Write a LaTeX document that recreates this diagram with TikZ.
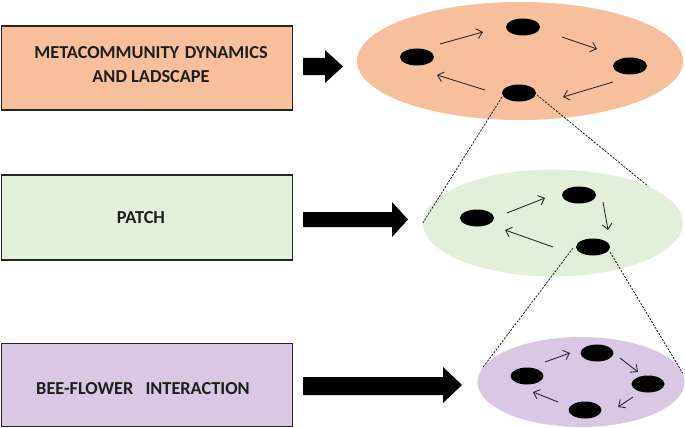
\documentclass[tikz,border=0pt]{standalone}
\usepackage{fontspec}
\setmainfont{Carlito}
\usetikzlibrary{shapes.geometric,calc,arrows.meta}
\definecolor{salmon}{HTML}{F7BF9C}
\definecolor{mint}{HTML}{E2EFDA}
\definecolor{lilac}{HTML}{D9C7E3}
\definecolor{txt}{HTML}{1E1E1E}
\tikzset{
  levelbox/.style={draw=black!85, line width=1.1pt, minimum width=291pt, inner sep=0pt},
  boxtext/.style={inner sep=0pt, font=\fontsize{18.3}{24}\selectfont\bfseries, text=txt, align=center},
  patch/.style={ellipse, inner sep=0pt, draw=none},
  dot/.style={ellipse, fill=black, inner sep=0pt, minimum width=34pt, minimum height=17pt},
  flow/.style={-{Straight Barb[length=5.5pt,width=10pt]}, line width=0.85pt, black!85},
  zoomline/.style={black!85, line width=0.8pt, dash pattern=on 2.2pt off 1.3pt},
  blockarrow/.style={fill=black}
}
\begin{document}
\begin{tikzpicture}[x=1pt,y=-1pt]
\useasboundingbox (0,0) rectangle (685,428);

% level boxes
\node[levelbox, fill=salmon, minimum height=84pt] (box1) at (147,68) {};
\node[levelbox, fill=mint, minimum height=85pt] (box2) at (147,217.5) {};
\node[levelbox, fill=lilac, minimum height=83pt] (box3) at (147,385) {};
\node[boxtext] (lab1) at ($(box1)+(4,-3)$) {METACOMMUNITY\hspace{1.5pt} DYNAMICS\\AND LADSCAPE};
\node[boxtext] (lab2) at ($(box2)+(-6,0)$) {PATCH};
\node[boxtext] (lab3) at ($(box3)+(-4,4)$) {BEE-FLOWER\hspace{8pt} INTERACTION};

% block arrows
\fill[blockarrow] (303,58) -- (325,58) -- (325,50) -- (343,66.5) -- (325,83) -- (325,75) -- (303,75) -- cycle;
\fill[blockarrow] (303,212) -- (392,212) -- (392,202) -- (408,219.5) -- (392,237) -- (392,227) -- (303,227) -- cycle;
\fill[blockarrow] (303,377) -- (443,377) -- (443,367) -- (462,385) -- (443,403) -- (443,395) -- (303,395) -- cycle;

% patches
\node[patch, fill=salmon, minimum width=326pt, minimum height=118pt] (e1) at (520,61) {};
\node[patch, fill=mint, minimum width=260pt, minimum height=107pt] (e2) at (553,223) {};
\node[patch, fill=lilac, minimum width=207pt, minimum height=90pt] (e3) at (581,382) {};

% level 1 dots
\node[dot] (l1) at (417,57) {};
\node[dot] (t1) at (523,27) {};
\node[dot] (r1) at (630,66) {};
\node[dot] (b1) at (519,93) {};
\draw[flow] ($(l1)+(23,-13)$) -- ($(t1)+(-40,5)$);
\draw[flow] ($(t1)+(39,10)$) -- ($(r1)+(-33,-17)$);
\draw[flow] ($(r1)+(-17,16)$) -- ($(b1)+(44,4)$);
\draw[flow] ($(b1)+(-34,-3)$) -- ($(l1)+(20,18)$);

% level 2 dots
\node[dot] (l2) at (477,218) {};
\node[dot] (t2) at (579,195) {};
\node[dot] (b2) at (593,247) {};
\draw[flow] ($(l2)+(30,-5)$) -- ($(t2)+(-34,3)$);
\draw[flow] ($(t2)+(24,7)$) -- ($(b2)+(15,-17)$);
\draw[flow] ($(b2)+(-40,0)$) -- ($(l2)+(28,12)$);

% level 3 dots
\node[dot, minimum width=33pt] (t3) at (597,353) {};
\node[dot, minimum width=33pt] (l3) at (527,376) {};
\node[dot, minimum width=33pt] (r3) at (648,384) {};
\node[dot, minimum width=33pt] (b3) at (585,410) {};
\draw[flow] ($(l3)+(18,-14)$) -- ($(t3)+(-27,0)$);
\draw[flow] ($(t3)+(23,5)$) -- ($(r3)+(-10,-12)$);
\draw[flow] ($(r3)+(-15,13)$) -- ($(b3)+(33,-3)$);
\draw[flow] ($(b3)+(-27,-8)$) -- ($(l3)+(6,16)$);

% zoom lines
\draw[zoomline] ($(b1)+(-17,4)$) -- (e2.west);
\draw[zoomline] ($(b1)+(18,2)$) -- (e2.21);
\draw[zoomline] ($(b2)+(-20,1)$) -- (e3.172);
\draw[zoomline] ($(b2)+(17,5)$) -- (e3.5);
\end{tikzpicture}
\end{document}
